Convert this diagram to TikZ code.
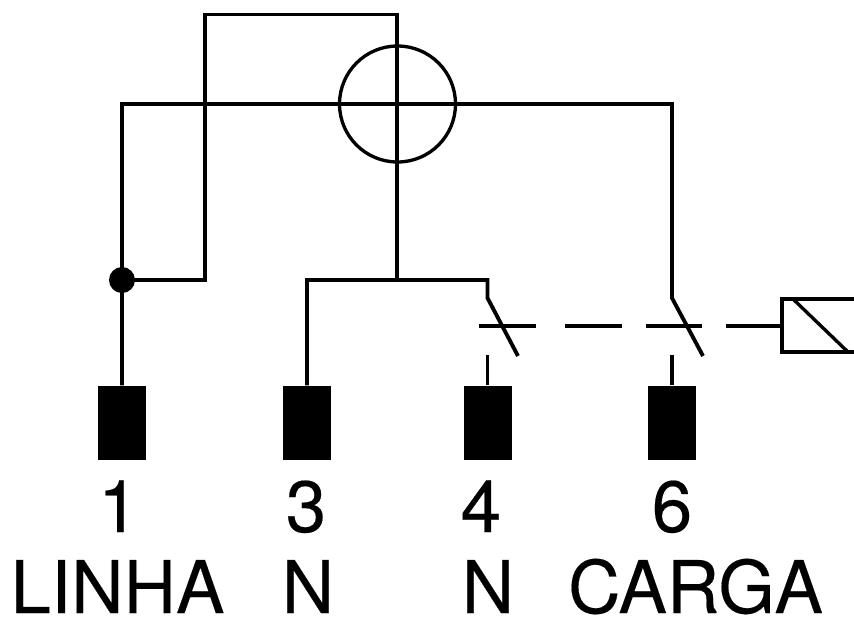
\documentclass[tikz,border=0pt]{standalone}
\usepackage{fontspec}
\setmainfont[FakeBold=0.25]{TeX Gyre Heros}
\tikzset{
 wire/.style={line width=2.9pt,draw=black},
 thinw/.style={line width=2.5pt,draw=black},
 term/.style={draw=none,fill=black,minimum width=36pt,minimum height=56pt,inner sep=0pt},
 lab/.style={font=\fontsize{54.5}{54.5}\selectfont,inner sep=0pt,anchor=base},
}
\begin{document}
\begin{tikzpicture}[x=0.75pt,y=-0.75pt]
\useasboundingbox (0,0) rectangle (854,619);
\fill[white] (0,0) rectangle (854,619);
\node[term] (t1) at (122,423) {};
\node[term] (t3) at (307,423) {};
\node[term] (t4) at (487.5,423) {};
\node[term] (t6) at (672,423) {};
\node[circle,draw=black,line width=2.5pt,minimum size=87pt,inner sep=0pt] (c) at (397.5,104) {};
\coordinate (top) at (397,14.5);
\coordinate (tl) at (205.3,14.5);
\coordinate (jr) at (205.3,280);
\coordinate (j) at (122,280);
\coordinate (ll) at (122,104);
\coordinate (lr) at (672,104);
\coordinate (bj) at (397,280);
\coordinate (n3) at (307,280);
\coordinate (n4) at (487.5,280);
\coordinate (s4t) at (487.5,298);
\coordinate (s4e) at (518,356);
\coordinate (s4b) at (487.5,355);
\coordinate (s6t) at (672,298);
\coordinate (s6e) at (703,356);
\coordinate (s6b) at (672,355);
\draw[wire] (t1) -- (ll) -- (lr) -- (s6t) -- (s6e);
\draw[wire] (j) -- (jr) -- (tl) -- (top) -- (bj);
\draw[wire] (t3) -- (n3) -- (n4) -- (s4t) -- (s4e);
\draw[wire] (s4b) -- (t4);
\draw[wire] (s6b) -- (t6);
\fill (j) circle[radius=13];
\coordinate (rnw) at (782,299);
\coordinate (rsw) at (782,352);
\coordinate (rne) at (854,299);
\coordinate (rse) at (854,352);
\coordinate (rw) at (782,326);
\draw[thinw] (rne) -- (rnw) -- (rsw) -- (rse);
\draw[thinw] (793,299) -- (848,352);
\draw[wire] (rw) -- (726,326);
\draw[wire] (702,326) -- (646,326);
\draw[wire] (622,326) -- (565,326);
\draw[wire] (536,326) -- (479,326);
\node[lab] at (118.5,532) {1};
\node[lab] at (306,532) {3};
\node[lab] at (481,532) {4};
\node[lab] at (672,532) {6};
\node[lab] at (117.5,613) {LINHA};
\node[lab] at (308,613) {N};
\node[lab] at (488,613) {N};
\node[lab] at (695.5,613) {CARGA};
\end{tikzpicture}
\end{document}
